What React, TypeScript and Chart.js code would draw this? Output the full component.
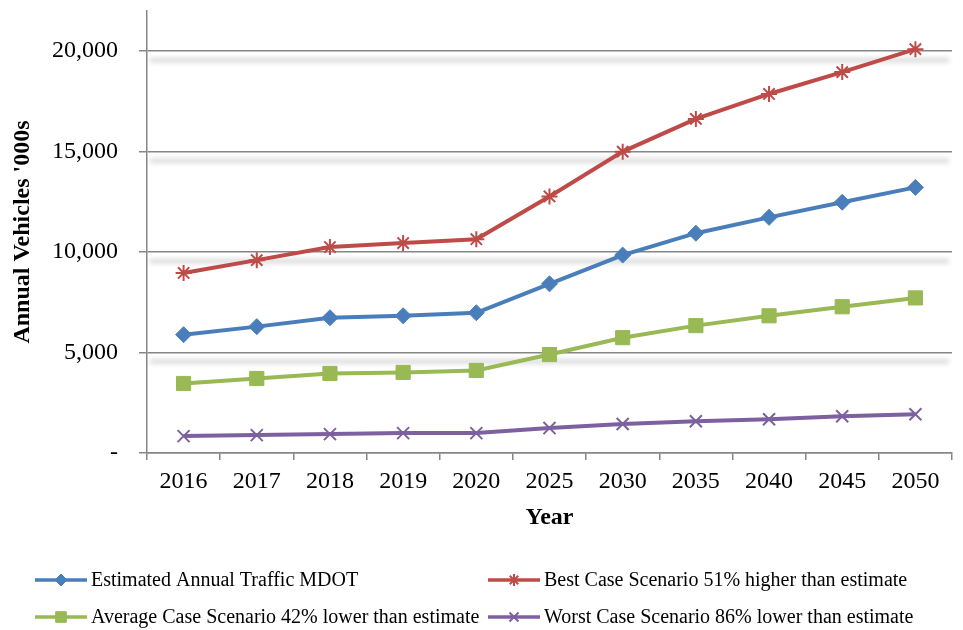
import React, { useEffect, useRef } from 'react';
import { Chart, registerables } from 'chart.js';
import { drawPoint } from 'chart.js/helpers';

Chart.register(...registerables);

const years = ['2016', '2017', '2018', '2019', '2020', '2025', '2030', '2035', '2040', '2045', '2050'];
const estimatedTraffic = [5890, 6290, 6730, 6830, 6980, 8420, 9850, 10940, 11730, 12480, 13220];
const bestCase = [8960, 9600, 10250, 10450, 10640, 12770, 15000, 16630, 17870, 18960, 20100];
const averageCase = [3460, 3710, 3960, 4010, 4110, 4900, 5740, 6340, 6830, 7280, 7720];
const worstCase = [840, 890, 940, 990, 990, 1240, 1440, 1580, 1680, 1830, 1930];
const yTickValues = [0, 5000, 10000, 15000, 20000];

const seriesLabels = [
  'Estimated Annual Traffic MDOT',
  'Best Case Scenario 51% higher than estimate',
  'Average Case Scenario 42% lower than estimate',
  'Worst Case Scenario 86% lower than estimate',
];

const FONT = "'Liberation Serif', 'Times New Roman', serif";
const AXIS_GRAY = '#868686';

const shadowPlugin = {
  id: 'gridShadow',
  beforeDatasetsDraw(chart: any) {
    const { ctx, chartArea, scales } = chart;
    const y = scales.y;
    ctx.save();
    ctx.filter = 'blur(2.5px)';
    ctx.fillStyle = 'rgba(0,0,0,0.17)';
    y.ticks.forEach((t: any) => {
      if (t.value === 0) return;
      const py = y.getPixelForValue(t.value);
      ctx.fillRect(chartArea.left + 3, py + 7, chartArea.right - chartArea.left - 6, 4);
    });
    ctx.restore();
  },
};

const legendPlugin = {
  id: 'gridLegend',
  afterDraw(chart: any) {
    const ctx = chart.ctx;
    const cols = [35, 488];
    const rows = [580, 617];
    chart.data.datasets.forEach((ds: any, i: number) => {
      const x0 = cols[i % 2];
      const y0 = rows[Math.floor(i / 2)];
      ctx.save();
      ctx.strokeStyle = ds.borderColor;
      ctx.lineWidth = 3.5;
      ctx.beginPath();
      ctx.moveTo(x0, y0);
      ctx.lineTo(x0 + 52, y0);
      ctx.stroke();
      ctx.fillStyle = ds.pointBackgroundColor;
      ctx.strokeStyle = ds.pointBorderColor;
      ctx.lineWidth = ds.pointBorderWidth;
      drawPoint(ctx, { pointStyle: ds.pointStyle, rotation: 0, radius: ds.pointRadius * 0.75, borderWidth: ds.pointBorderWidth }, x0 + 26, y0);
      ctx.fillStyle = '#000';
      ctx.font = `20px ${FONT}`;
      ctx.textBaseline = 'middle';
      ctx.textAlign = 'left';
      ctx.fillText(ds.label, x0 + 56, y0 + 1);
      ctx.restore();
    });
  },
};

function makeDataset(label: string, data: number[], color: string, style: string, radius: number, bw: number) {
  return {
    label,
    data,
    borderColor: color,
    backgroundColor: color,
    borderWidth: 4,
    pointStyle: style,
    pointRadius: radius,
    pointHoverRadius: radius,
    pointBackgroundColor: color,
    pointBorderColor: color,
    pointBorderWidth: bw,
    tension: 0,
  };
}

export default function App() {
  const ref = useRef<HTMLCanvasElement>(null);
  useEffect(() => {
    document.body.style.margin = '0';
    const chart = new Chart(ref.current!, {
      type: 'line',
      data: {
        labels: years,
        datasets: [
          makeDataset(seriesLabels[0], estimatedTraffic, '#4a7ebb', 'rectRot', 8, 1),
          makeDataset(seriesLabels[1], bestCase, '#be4b48', 'star', 8, 2),
          makeDataset(seriesLabels[2], averageCase, '#98b954', 'rect', 10, 1),
          makeDataset(seriesLabels[3], worstCase, '#7d60a0', 'crossRot', 8.5, 2),
        ],
      },
      options: {
        responsive: false,
        animation: false,
        layout: { padding: { left: 0, top: 10, right: 3, bottom: 97 } },
        plugins: {
          legend: { display: false },
          tooltip: { enabled: false },
        },
        scales: {
          x: {
            offset: true,
            afterFit: (s: any) => { s.height = 80; s.paddingLeft = 0; s.paddingRight = 0; },
            grid: { offset: true, drawOnChartArea: false, drawTicks: true, tickLength: 7, color: AXIS_GRAY, lineWidth: 1.5 },
            border: { color: AXIS_GRAY, width: 1.5 },
            ticks: { color: '#000', font: { family: FONT, size: 24 }, padding: 7, maxRotation: 0, autoSkip: false },
            title: { display: true, text: 'Year', color: '#000', font: { family: FONT, size: 24, weight: 'bold' }, padding: { top: 0, bottom: 1 } },
          },
          y: {
            min: 0,
            max: 22000,
            afterFit: (s: any) => { s.width = 147; s.paddingTop = 0; s.paddingBottom = 0; },
            afterBuildTicks: (s: any) => { s.ticks = yTickValues.map((v) => ({ value: v })); },
            grid: { drawOnChartArea: true, drawTicks: true, tickLength: 8, color: AXIS_GRAY, lineWidth: 1.5 },
            border: { color: AXIS_GRAY, width: 1.5 },
            ticks: {
              color: '#000',
              font: { family: FONT, size: 24 },
              padding: 21,
              callback: (v: any) => (Number(v) === 0 ? '-' : Number(v).toLocaleString('en-US')),
            },
            title: { display: true, text: "Annual Vehicles '000s", color: '#000', font: { family: FONT, size: 24, weight: 'bold' }, padding: { top: 8, bottom: 0 } },
          },
        },
      },
      plugins: [shadowPlugin, legendPlugin],
    } as any);
    return () => chart.destroy();
  }, []);
  return (
    <div style={{ position: 'absolute', left: 0, top: 0, width: 963, height: 630 }}>
      <canvas ref={ref} width={963} height={630} style={{ display: 'block' }} />
    </div>
  );
}
